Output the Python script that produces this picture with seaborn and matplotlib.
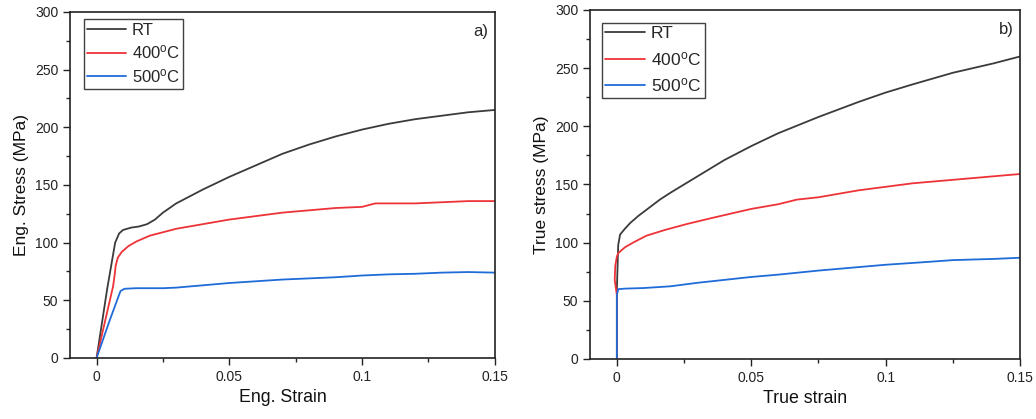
import matplotlib
matplotlib.use("Agg")
import matplotlib.pyplot as plt
import seaborn as sns
import pandas as pd
from matplotlib.ticker import MultipleLocator

sns.set_theme(style="white")
plt.rcParams['font.family'] = ['Liberation Sans', 'DejaVu Sans']
plt.rcParams['mathtext.fontset'] = 'custom'
plt.rcParams['mathtext.rm'] = 'Liberation Sans'
plt.rcParams['mathtext.it'] = 'Liberation Sans'

labels = ["RT", "400$^{\\mathrm{o}}$C", "500$^{\\mathrm{o}}$C"]
colors = ["#3b3b3b", "#ee3338", "#1f6bd8"]

# Engineering curves
eng_rt_x = [0, 0.004, 0.007, 0.0085, 0.01, 0.013, 0.016, 0.019, 0.022, 0.025, 0.03, 0.04, 0.05,
            0.06, 0.07, 0.08, 0.09, 0.1, 0.11, 0.12, 0.13, 0.14, 0.15]
eng_rt_y = [0, 60, 100, 108, 111, 113, 114, 116, 120, 126, 134, 146, 157,
            167, 177, 185, 192, 198, 203, 207, 210, 213, 215]
eng_400_x = [0, 0.004, 0.0062, 0.0067, 0.0072, 0.008, 0.0095, 0.012, 0.015, 0.02, 0.025, 0.03,
             0.04, 0.05, 0.06, 0.07, 0.08, 0.09, 0.1, 0.105, 0.11, 0.12, 0.13, 0.14, 0.15]
eng_400_y = [0, 40, 62, 70, 80, 87, 92, 97, 101, 106, 109, 112,
             116, 120, 123, 126, 128, 130, 131, 134, 134, 134, 135, 136, 136]
eng_500_x = [0, 0.005, 0.009, 0.0105, 0.015, 0.02, 0.025, 0.03, 0.04, 0.05, 0.06, 0.07, 0.08,
             0.09, 0.1, 0.11, 0.12, 0.13, 0.14, 0.15]
eng_500_y = [0, 33, 58, 60, 60.5, 60.5, 60.5, 61, 63, 65, 66.5, 68, 69,
             70, 71.5, 72.5, 73, 74, 74.5, 74]

# True curves
true_rt_x = [0, 0, 0.0005, 0.0012, 0.003, 0.005, 0.008, 0.012, 0.016, 0.02, 0.025, 0.03, 0.04,
             0.05, 0.06, 0.075, 0.09, 0.1, 0.11, 0.125, 0.14, 0.15]
true_rt_y = [0, 60, 98, 107, 112, 117, 123, 130, 137, 143, 150, 157, 171,
             183, 194, 208, 221, 229, 236, 246, 254, 260]
true_400_x = [0, 0, -0.0008, -0.0006, 0.0, 0.0005, 0.003, 0.006, 0.011, 0.018, 0.026, 0.035, 0.05,
              0.06, 0.067, 0.075, 0.09, 0.1, 0.11, 0.125, 0.14, 0.15]
true_400_y = [0, 55, 68, 80, 88, 91, 96, 100, 106, 111, 116, 121, 129,
              133, 137, 139, 145, 148, 151, 154, 157, 159]
true_500_x = [0, 0, 0.0005, 0.003, 0.01, 0.02, 0.03, 0.04, 0.05, 0.06, 0.075, 0.085,
              0.1, 0.116, 0.125, 0.14, 0.15]
true_500_y = [0, 55, 60, 60.5, 61, 62.5, 65.5, 68, 70.5, 72.5, 76, 78,
              81, 83.5, 85, 86, 87]

x_ticks = [0, 0.05, 0.1, 0.15]
x_ticklabels = ["0", "0.05", "0.1", "0.15"]
y_ticks = [0, 50, 100, 150, 200, 250, 300]

fig = plt.figure(figsize=(10.36, 4.19), dpi=100)
ax1 = fig.add_axes([0.0676, 0.1456, 0.410, 0.826])
ax2 = fig.add_axes([0.5695, 0.1432, 0.415, 0.833])

panels = [
    (ax1, [(eng_rt_x, eng_rt_y), (eng_400_x, eng_400_y), (eng_500_x, eng_500_y)],
     "Eng. Strain", "Eng. Stress (MPa)", "a)", (0.033, 0.979), 12, 0.35),
    (ax2, [(true_rt_x, true_rt_y), (true_400_x, true_400_y), (true_500_x, true_500_y)],
     "True strain", "True stress (MPa)", "b)", (0.027, 0.964), 12.5, 0.5),
]

for ax, series, xl, yl, tag, anchor, lfs, lsp in panels:
    for (xs, ys), lab, col in zip(series, labels, colors):
        df = pd.DataFrame({"x": xs, "y": ys})
        sns.lineplot(data=df, x="x", y="y", ax=ax, color=col, label=lab,
                     sort=False, estimator=None, linewidth=1.3)
    ax.set_xlim(-0.01, 0.15)
    ax.set_ylim(0, 300)
    ax.set_xticks(x_ticks)
    ax.set_xticklabels(x_ticklabels)
    ax.set_yticks(y_ticks)
    ax.xaxis.set_minor_locator(MultipleLocator(0.025))
    ax.yaxis.set_minor_locator(MultipleLocator(25))
    ax.tick_params(axis='both', which='major', direction='out', length=5, width=1.0,
                   bottom=True, left=True, top=False, right=False, labelsize=10, colors='#222222')
    ax.tick_params(axis='both', which='minor', direction='out', length=3, width=1.0,
                   bottom=True, left=True, top=False, right=False)
    for sp in ax.spines.values():
        sp.set_color('#222222')
        sp.set_linewidth(1.2)
    ax.set_xlabel(xl, fontsize=12.8, color='#111111')
    ax.set_ylabel(yl, fontsize=12.5, color='#111111')
    ax.text(0.985, 0.965, tag, transform=ax.transAxes, ha='right', va='top', fontsize=12)
    leg = ax.legend(loc='upper left', bbox_to_anchor=anchor, fontsize=lfs, frameon=True,
                    fancybox=False, edgecolor='#111111', borderpad=0.2, labelspacing=lsp,
                    handlelength=2.3, handletextpad=0.35, borderaxespad=0.0)
    leg.get_frame().set_linewidth(1.0)
    for line in leg.get_lines():
        line.set_linewidth(1.3)

fig.savefig("out.png", dpi=100)
